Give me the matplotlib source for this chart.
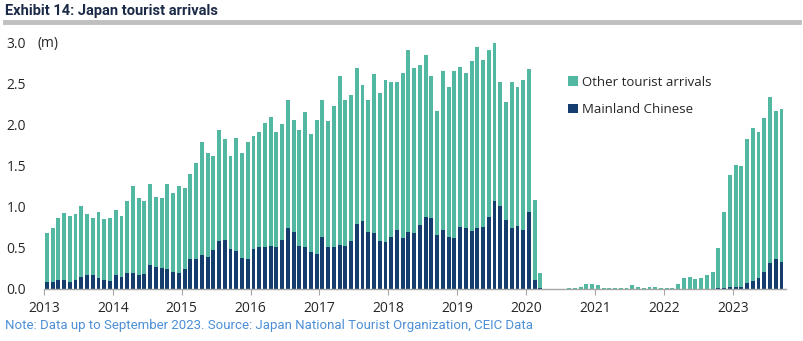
import matplotlib
matplotlib.use("Agg")
import matplotlib.pyplot as plt
from matplotlib.patches import Patch
import numpy as np

# monthly arrivals, millions, Jan 2013 - Sep 2023
total = [
    # 2013
    0.68, 0.74, 0.87, 0.93, 0.89, 0.92, 1.01, 0.92, 0.87, 0.94, 0.85, 0.87,
    # 2014
    0.96, 0.89, 1.07, 1.25, 1.11, 1.07, 1.28, 1.12, 1.11, 1.28, 1.17, 1.25,
    # 2015
    1.23, 1.40, 1.54, 1.79, 1.66, 1.62, 1.94, 1.83, 1.62, 1.84, 1.66, 1.79,
    # 2016
    1.87, 1.91, 2.02, 2.10, 1.91, 2.01, 2.31, 2.06, 1.94, 2.16, 1.89, 2.06,
    # 2017
    2.31, 2.05, 2.23, 2.60, 2.31, 2.36, 2.69, 2.49, 2.30, 2.62, 2.39, 2.55,
    # 2018
    2.52, 2.53, 2.63, 2.91, 2.69, 2.73, 2.85, 2.60, 2.17, 2.66, 2.46, 2.66,
    # 2019
    2.71, 2.63, 2.78, 2.95, 2.79, 2.91, 3.00, 2.53, 2.28, 2.52, 2.46, 2.55,
    # 2020
    2.68, 1.09, 0.19, 0.003, 0.002, 0.003, 0.004, 0.009, 0.015, 0.028, 0.057, 0.059,
    # 2021
    0.047, 0.007, 0.012, 0.011, 0.010, 0.009, 0.051, 0.026, 0.018, 0.022, 0.021, 0.012,
    # 2022
    0.018, 0.017, 0.066, 0.14, 0.15, 0.12, 0.14, 0.17, 0.21, 0.50, 0.94, 1.39,
    # 2023
    1.51, 1.50, 1.83, 1.96, 1.91, 2.09, 2.34, 2.17, 2.20,
]

chinese = [
    # 2013
    0.09, 0.09, 0.11, 0.11, 0.09, 0.11, 0.15, 0.17, 0.17, 0.13, 0.11, 0.10,
    # 2014
    0.17, 0.15, 0.19, 0.19, 0.17, 0.18, 0.29, 0.27, 0.26, 0.24, 0.21, 0.20,
    # 2015
    0.24, 0.37, 0.36, 0.41, 0.39, 0.48, 0.58, 0.60, 0.49, 0.46, 0.38, 0.36,
    # 2016
    0.49, 0.51, 0.51, 0.53, 0.51, 0.60, 0.74, 0.70, 0.53, 0.51, 0.45, 0.43,
    # 2017
    0.64, 0.51, 0.51, 0.54, 0.53, 0.59, 0.79, 0.83, 0.70, 0.68, 0.58, 0.57,
    # 2018
    0.64, 0.72, 0.62, 0.69, 0.68, 0.78, 0.88, 0.87, 0.66, 0.72, 0.63, 0.62,
    # 2019
    0.76, 0.74, 0.71, 0.74, 0.76, 0.88, 1.07, 1.01, 0.84, 0.74, 0.77, 0.72,
    # 2020
    0.94, 0.11, 0.01, 0.0, 0.0, 0.0, 0.0, 0.0, 0.001, 0.002, 0.002, 0.002,
    # 2021
    0.001, 0.0, 0.001, 0.0, 0.0, 0.0, 0.001, 0.0, 0.0, 0.001, 0.001, 0.001,
    # 2022
    0.001, 0.001, 0.002, 0.002, 0.002, 0.003, 0.004, 0.005, 0.006, 0.01, 0.01, 0.02,
    # 2023
    0.03, 0.03, 0.07, 0.10, 0.14, 0.21, 0.32, 0.37, 0.33,
]

years = list(range(2013, 2024))

teal = "#52b8a2"
navy = "#153e6e"
axis_grey = "#a6a6a6"
text_col = "#262626"

total = np.array(total)
chinese = np.array(chinese)
other = total - chinese
x = np.arange(len(total)) + 0.5

fig = plt.figure(figsize=(8.04, 3.41), dpi=100)
ax = fig.add_axes([0.0547, 0.1525, 0.923, 0.7215])

ax.bar(x, chinese, width=0.68, color=navy, linewidth=0)
ax.bar(x, other, width=0.68, bottom=chinese, color=teal, linewidth=0)

ax.set_xlim(0, 129.3)
ax.set_ylim(0, 3.0)

for s in ["top", "right", "left"]:
    ax.spines[s].set_visible(False)
ax.spines["bottom"].set_color(axis_grey)
ax.spines["bottom"].set_linewidth(1.0)

ax.set_xticks([12 * i for i in range(len(years))])
ax.set_xticklabels([str(y) for y in years])
ax.tick_params(axis="x", length=4, color=axis_grey, pad=5,
               labelsize=10, labelcolor=text_col)
ax.set_yticks(np.arange(0, 3.01, 0.5))
ax.set_yticklabels(["%.1f" % v for v in np.arange(0, 3.01, 0.5)])
ax.tick_params(axis="y", length=0, pad=13, labelsize=10, labelcolor=text_col)
for lbl in ax.get_xticklabels() + ax.get_yticklabels():
    lbl.set_fontfamily("Open Sans")

fig.text(0.047, 1 - 43 / 341, "(m)", fontsize=10, color=text_col,
         family="Open Sans", va="center", ha="left")

handles = [Patch(facecolor=teal, edgecolor="none"),
           Patch(facecolor=navy, edgecolor="none")]
leg = ax.legend(handles, ["Other tourist arrivals", "Mainland Chinese"],
                loc="upper left", bbox_to_anchor=(0.69, 0.915), frameon=False,
                handlelength=0.75, handleheight=0.75, handletextpad=0.35,
                labelspacing=1.1, prop={"family": "Open Sans", "size": 9.5})
for t in leg.get_texts():
    t.set_color(text_col)

# header
fig.text(0.006, 1 - 11 / 341, "Exhibit 14: Japan tourist arrivals",
         fontsize=10.5, fontweight="bold", color="#1b2a47",
         family="Roboto", va="center", ha="left")
fig.add_artist(plt.Line2D([0.006, 0.994], [1 - 22 / 341, 1 - 22 / 341],
                          color="#bfbfbf", linewidth=3.5))

fig.text(0.006, 1 - 326 / 341,
         "Note: Data up to September 2023. Source: Japan National Tourist Organization, CEIC Data",
         fontsize=9.5, color="#4d8fd6", family="Roboto", va="center", ha="left")

fig.savefig("out.png", dpi=100)
